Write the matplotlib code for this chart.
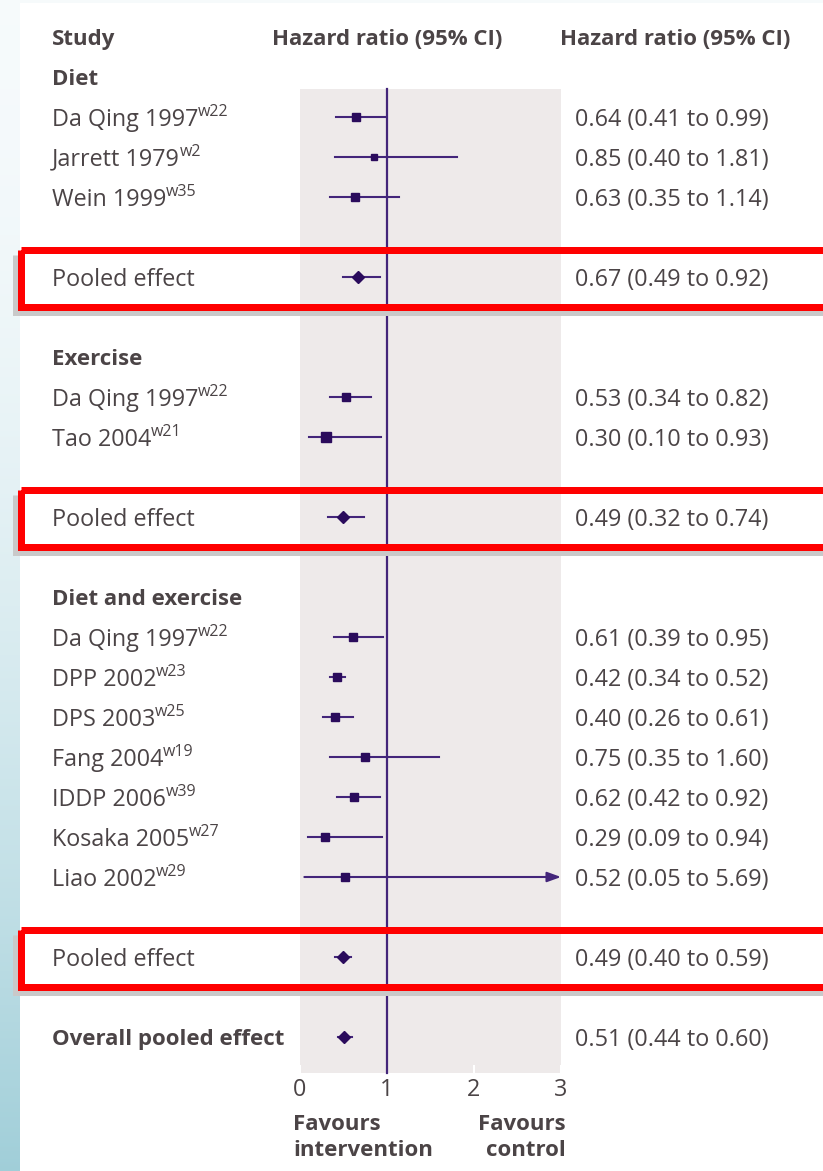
import numpy as np
import matplotlib
matplotlib.use("Agg")
import matplotlib.pyplot as plt
from matplotlib.patches import Rectangle

# ---- data -------------------------------------------------------------
groups = ["Diet", "Exercise", "Diet and exercise"]
studies = [
    ["Da Qing 1997", "Jarrett 1979", "Wein 1999"],
    ["Da Qing 1997", "Tao 2004"],
    ["Da Qing 1997", "DPP 2002", "DPS 2003", "Fang 2004", "IDDP 2006",
     "Kosaka 2005", "Liao 2002"],
]
refs = [
    ["w22", "w2", "w35"],
    ["w22", "w21"],
    ["w22", "w23", "w25", "w19", "w39", "w27", "w29"],
]
hr = [[0.64, 0.85, 0.63], [0.53, 0.30], [0.61, 0.42, 0.40, 0.75, 0.62, 0.29, 0.52]]
lo = [[0.41, 0.40, 0.35], [0.34, 0.10], [0.39, 0.34, 0.26, 0.35, 0.42, 0.09, 0.05]]
hi = [[0.99, 1.81, 1.14], [0.82, 0.93], [0.95, 0.52, 0.61, 1.60, 0.92, 0.94, 5.69]]
box_px = [[8, 6, 8], [8, 10], [8, 8, 8, 8, 8, 8, 8]]   # study weight boxes

pooled_hr = [0.67, 0.49, 0.49]
pooled_lo = [0.49, 0.32, 0.40]
pooled_hi = [0.92, 0.74, 0.59]
overall_hr, overall_lo, overall_hi = 0.51, 0.44, 0.60

x_ticks = [0, 1, 2, 3]

# ---- layout (pixels) --------------------------------------------------
W, H, DPI = 823, 1171, 100
X0_PX, UNIT_PX = 300, 87          # x=0 position and pixels per unit
ROW0_PX, ROW_PX = 37, 40          # header row and row pitch
TXT_DY = 2.5 / ROW_PX             # nudge text down onto the row centre

TEXT = "#4b4446"
MARK = "#2a0b5c"
LINE = "#43257a"
BAND = "#eeeaea"
RED = "#ff0000"
SHADOW = "#c9c9c9"

plt.rcParams["font.family"] = ["Open Sans", "DejaVu Sans"]


def px_x(p):
    return (p - X0_PX) / UNIT_PX


def px_y(p):
    return (p - ROW0_PX) / ROW_PX


fig = plt.figure(figsize=(W / DPI, H / DPI), dpi=DPI)

# pale blue page edge behind the white panel
bg = fig.add_axes([0, 0, 1, 1], zorder=-1)
t = np.linspace(0, 1, 300)[:, None]
top = np.array([0.965, 0.982, 0.988])
bot = np.array([0.63, 0.81, 0.85])
grad = top + (bot - top) * (t ** 1.8)[:, :, None] * np.ones((1, 20, 1))
bg.imshow(grad, extent=[0, W, H, 0], aspect="auto", interpolation="bilinear")
bg.add_patch(Rectangle((20, 3), W, H, facecolor="white", edgecolor="none"))
bg.set_xlim(0, W)
bg.set_ylim(H, 0)
bg.axis("off")

ax = fig.add_axes([0, 0, 1, 1])
ax.patch.set_alpha(0)
ax.set_xlim(px_x(0), px_x(W))
ax.set_ylim(px_y(H), px_y(0))
ax.axis("off")

label_x = px_x(52)
value_x = px_x(575)
FS = 16.8      # regular text
FS_B = 16      # bold headings


def put(x, y, s, bold=False, ha="left"):
    return ax.text(x, y + TXT_DY, s, fontsize=FS_B if bold else FS, color=TEXT,
                   va="center", ha=ha, fontweight="bold" if bold else "normal")


def study_label(y, name, ref):
    t = put(label_x, y, name)
    ax.annotate(ref, xy=(1, 0), xycoords=t, xytext=(-0.3, 11.5), textcoords="offset points",
                fontsize=11.5, color=TEXT, va="baseline", ha="left")


def value_text(y, h, l, u):
    put(value_x, y, f"{h:.2f} ({l:.2f} to {u:.2f})")


xmax = x_ticks[-1]

# headers
put(label_x, 0, "Study", bold=True)
put(1, 0, "Hazard ratio (95% CI)", bold=True, ha="center")
put(px_x(560), 0, "Hazard ratio (95% CI)", bold=True)

pooled_rows = []
row = 1
for g, name in enumerate(groups):
    put(label_x, row, name, bold=True)
    row += 1
    for s in range(len(studies[g])):
        study_label(row, studies[g][s], refs[g][s])
        value_text(row, hr[g][s], lo[g][s], hi[g][s])
        if hi[g][s] > xmax:
            ax.annotate("", xy=(xmax, row), xytext=(lo[g][s], row), zorder=3,
                        arrowprops=dict(arrowstyle="-|>,head_length=0.55,head_width=0.2",
                                        color=LINE, lw=1.5, mutation_scale=15,
                                        shrinkA=0, shrinkB=0))
        else:
            ax.plot([lo[g][s], hi[g][s]], [row, row], color=LINE, lw=1.5, zorder=3)
        ax.plot(hr[g][s], row, marker="s", ms=box_px[g][s] * 0.72, color=MARK,
                mec=MARK, zorder=4)
        row += 1
    row += 1
    put(label_x, row, "Pooled effect")
    value_text(row, pooled_hr[g], pooled_lo[g], pooled_hi[g])
    ax.plot([pooled_lo[g], pooled_hi[g]], [row, row], color=LINE, lw=1.5, zorder=3)
    ax.plot(pooled_hr[g], row, marker="D", ms=6.5, color=MARK, zorder=4)
    pooled_rows.append(row)
    row += 2

overall_row = row
put(label_x, overall_row, "Overall pooled effect", bold=True)
value_text(overall_row, overall_hr, overall_lo, overall_hi)
ax.plot([overall_lo, overall_hi], [overall_row, overall_row], color=LINE, lw=1.5, zorder=3)
ax.plot(overall_hr, overall_row, marker="D", ms=6.5, color=MARK, zorder=4)

# shaded plotting band, line of no effect, ticks
band_top, band_bot = px_y(89), px_y(1073)
ax.add_patch(Rectangle((x_ticks[0], band_top), xmax - x_ticks[0], band_bot - band_top,
                       facecolor=BAND, edgecolor="none", zorder=1))
ax.plot([1, 1], [band_top, band_bot], color=LINE, lw=1.6, zorder=2)
for xt in x_ticks:
    ax.plot([xt, xt], [band_bot - 7 / ROW_PX, band_bot], color="white", lw=1.5, zorder=1.5)
    put(xt, px_y(1088), str(xt), ha="center")

put(px_x(293), px_y(1122), "Favours", bold=True)
put(px_x(293), px_y(1148), "intervention", bold=True)
put(px_x(566), px_y(1122), "Favours", bold=True, ha="right")
put(px_x(566), px_y(1148), "control", bold=True, ha="right")

# red highlight boxes around the subgroup pooled estimates
RED_LW = 7 * 72 / DPI
for r in pooled_rows:
    cy = ROW0_PX + r * ROW_PX
    top_px, bot_px, left_px = cy - 27, cy + 30, 20.5
    ax.plot([px_x(left_px - 5), px_x(left_px - 5), px_x(W + 20)],
            [px_y(top_px + 5), px_y(bot_px + 5), px_y(bot_px + 5)],
            color=SHADOW, lw=RED_LW, solid_joinstyle="miter", solid_capstyle="butt",
            zorder=5, clip_on=False)
    ax.add_patch(Rectangle((px_x(left_px), px_y(top_px)), px_x(W + 40) - px_x(left_px),
                           px_y(bot_px) - px_y(top_px), facecolor="none", edgecolor=RED,
                           lw=RED_LW, joinstyle="miter", zorder=6, clip_on=False))

fig.savefig("out.png", dpi=DPI)
